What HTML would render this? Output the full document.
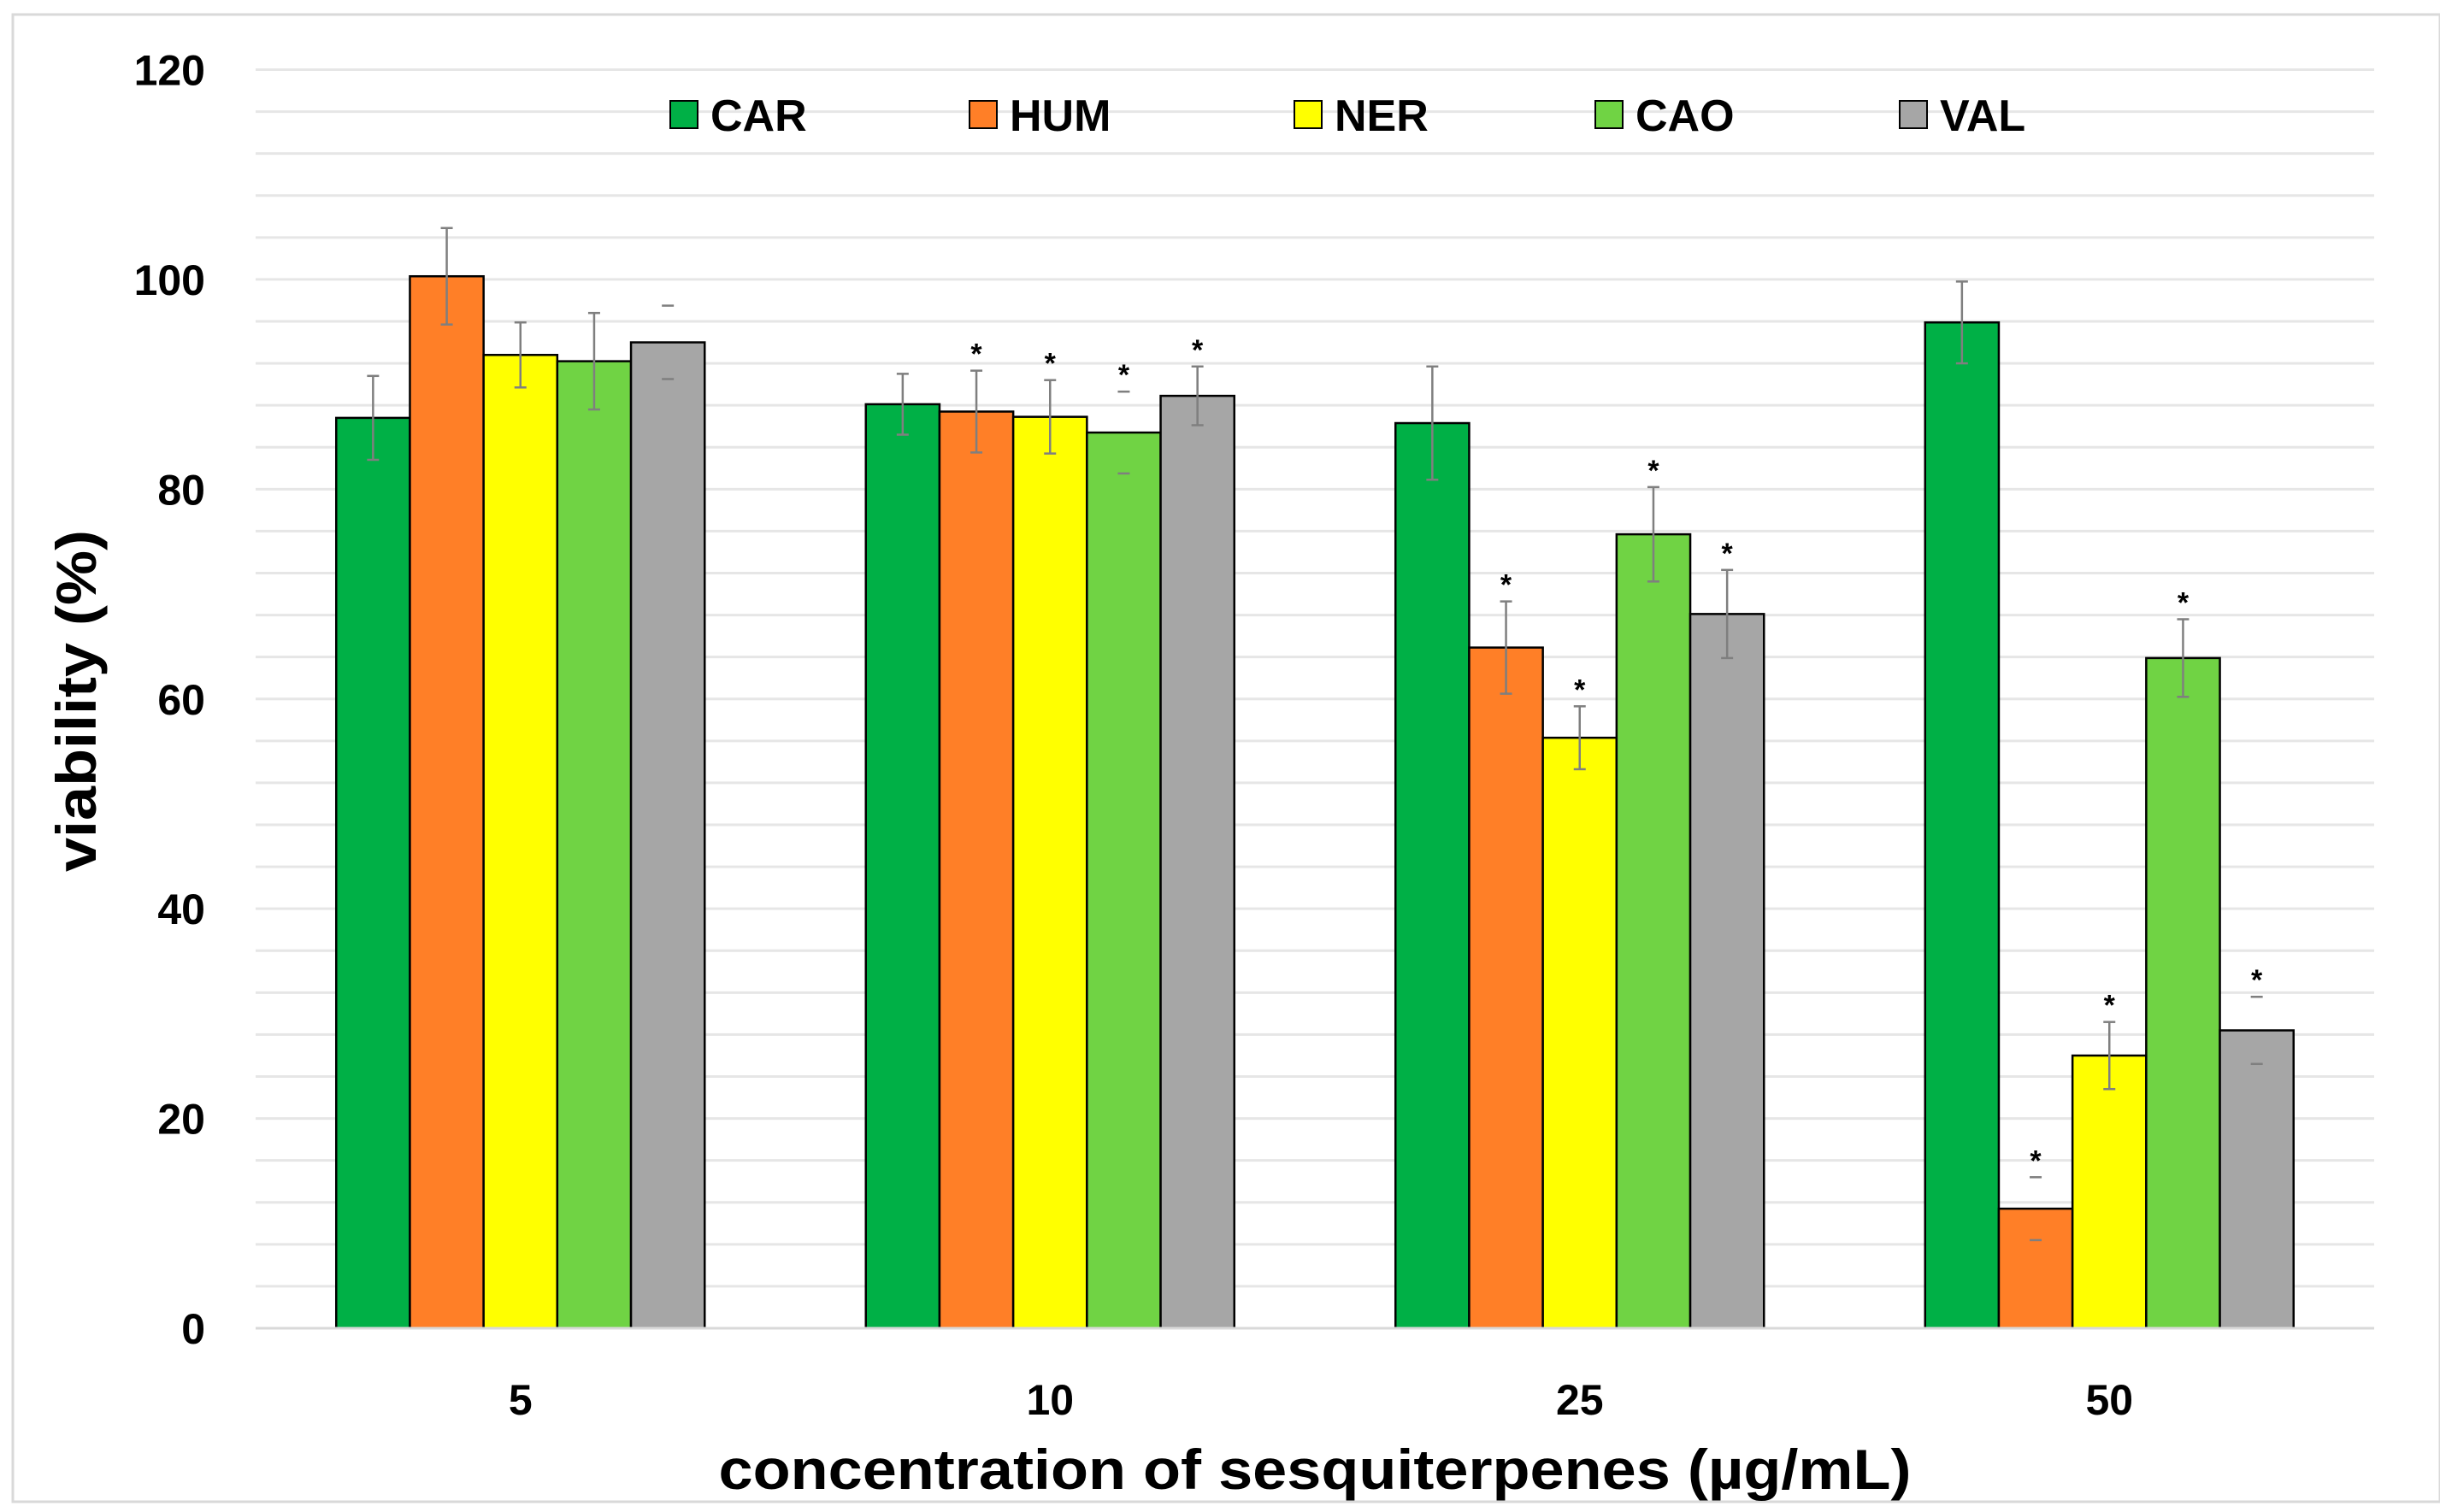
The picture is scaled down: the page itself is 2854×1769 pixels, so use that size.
<!DOCTYPE html>
<html><head><meta charset="utf-8"><style>
html,body{margin:0;padding:0;background:#fff;}
svg{display:block;}
text{font-family:"Liberation Sans",sans-serif;font-weight:bold;fill:#000;}
</style></head><body>
<svg id="chart" width="2854" height="1769" viewBox="0 0 2854 1769" xmlns="http://www.w3.org/2000/svg">
<rect x="15" y="17" width="2839" height="1740" fill="#fff" stroke="#d9d9d9" stroke-width="3"/>
<g id="grid"></g>
<g id="bars"></g>
<g id="errs"></g>
<g id="axes"></g>
<g id="legend"></g>
<text x="112" y="820" font-size="66" text-anchor="middle" transform="rotate(-90 112 820)" textLength="400" lengthAdjust="spacingAndGlyphs">viability (%)</text>
<text x="1538" y="1742" font-size="66" text-anchor="middle" textLength="1395" lengthAdjust="spacingAndGlyphs">concentration of sesquiterpenes (µg/mL)</text>
</svg>
<script>
const categories = ["5", "10", "25", "50"];
const seriesNames = ["CAR", "HUM", "NER", "CAO", "VAL"];
const carValues = [86.8, 88.1, 86.3, 95.9];
const humValues = [100.3, 87.4, 64.9, 11.4];
const nerValues = [92.8, 86.9, 56.3, 26.0];
const caoValues = [92.2, 85.4, 75.7, 63.9];
const valValues = [94.0, 88.9, 68.1, 28.4];
const carErr = [4.0, 2.9, 5.4, 3.9];
const humErr = [4.6, 3.9, 4.4, 3.0];
const nerErr = [3.1, 3.5, 3.0, 3.2];
const caoErr = [4.6, 3.9, 4.5, 3.7];
const valErr = [3.5, 2.8, 4.2, 3.2];
const carSig = [false, false, false, false];
const humSig = [false, true, true, true];
const nerSig = [false, true, true, true];
const caoSig = [false, true, true, true];
const valSig = [false, true, true, true];
const capOnly = [[false,false,false,false],[false,false,false,true],[false,false,false,false],[false,true,false,false],[true,false,false,true]];
const yTicks = [0, 20, 40, 60, 80, 100, 120];
const colors = ["#00b046", "#ff7f27", "#ffff00", "#70d344", "#a6a6a6"];

const values = [carValues, humValues, nerValues, caoValues, valValues];
const errs = [carErr, humErr, nerErr, caoErr, valErr];
const sigs = [carSig, humSig, nerSig, caoSig, valSig];

const NS = "http://www.w3.org/2000/svg";
const X0 = 299, X1 = 2777, Y0 = 1554, Y1 = 81.5, YMAX = 120;
const y = v => Y0 - (v / YMAX) * (Y0 - Y1);
const catW = (X1 - X0) / categories.length;
const barW = 86.2;
const xCenter = i => X0 + catW * (i + 0.5);
const barX = (i, s) => xCenter(i) - barW * seriesNames.length / 2 + s * barW;

function mk(tag, attrs, parent) {
  const e = document.createElementNS(NS, tag);
  for (const k in attrs) e.setAttribute(k, attrs[k]);
  parent.appendChild(e);
  return e;
}
const grid = document.getElementById("grid");
const bars = document.getElementById("bars");
const errG = document.getElementById("errs");
const axes = document.getElementById("axes");
const legend = document.getElementById("legend");

for (let v = 4; v <= YMAX; v += 4) {
  const l = mk("line", {x1: X0, x2: X1, y1: y(v), y2: y(v), stroke: "#e6e6e6", "stroke-width": 3}, grid);
  
  
}
yTicks.forEach(t => {
  const tx = mk("text", {x: 240, y: y(t) + 18, "font-size": 50, "text-anchor": "end"}, axes);
  tx.textContent = t;
  
  
});
categories.forEach((c, i) => {
  const tx = mk("text", {x: xCenter(i), y: 1655, "font-size": 50, "text-anchor": "middle"}, axes);
  tx.textContent = c;
  
  
});

values.forEach((arr, s) => {
  arr.forEach((v, i) => {
    const bx = barX(i, s);
    const r = mk("rect", {x: bx, y: y(v), width: barW, height: Y0 - y(v), fill: colors[s], stroke: "#000", "stroke-width": 2.5}, bars);
    
    
    const cx = bx + barW / 2, e = errs[s][i];
    const top = y(v + e), bot = y(v - e);
    const g = mk("g", {stroke: "#7f7f7f", "stroke-width": 2.5}, errG);
    
    
    if (!capOnly[s][i]) mk("line", {x1: cx, x2: cx, y1: top, y2: bot}, g);
    mk("line", {x1: cx - 7, x2: cx + 7, y1: top, y2: top}, g);
    mk("line", {x1: cx - 7, x2: cx + 7, y1: bot, y2: bot}, g);
    if (sigs[s][i]) {
      const st = mk("text", {x: cx, y: top - 8, "font-size": 34, "text-anchor": "middle", fill: "#333"}, errG);
      st.textContent = "*";
      
      
    }
  });
});
const axisLine = mk("line", {x1: X0, x2: X1, y1: Y0, y2: Y0, stroke: "#d9d9d9", "stroke-width": 3}, axes);



const legX = [784, 1134, 1514, 1866, 2222];
seriesNames.forEach((n, s) => {
  const g = mk("g", {}, legend);
  
  
  mk("rect", {x: legX[s], y: 118, width: 32, height: 32, fill: colors[s], stroke: "#000", "stroke-width": 2}, g);
  const t = mk("text", {x: legX[s] + 47, y: 153, "font-size": 52}, g);
  t.textContent = n;
});
</script>
</body></html>
